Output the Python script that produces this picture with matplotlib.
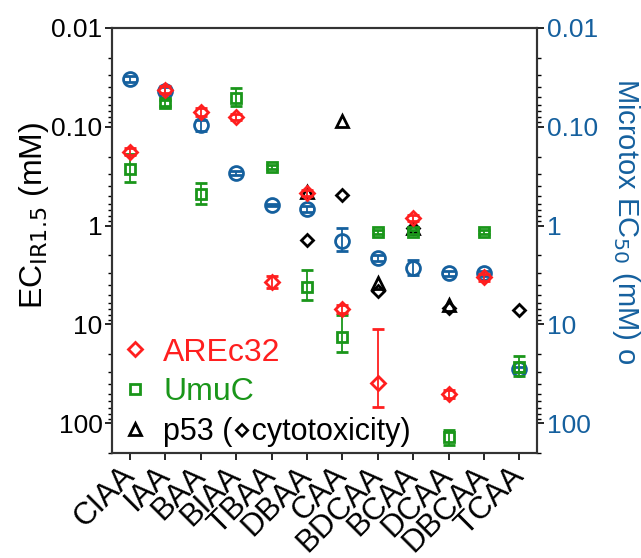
import numpy as np
import matplotlib
matplotlib.use("Agg")
import matplotlib.pyplot as plt
from matplotlib.lines import Line2D

plt.rcParams['font.family'] = ['Liberation Sans', 'DejaVu Sans']

# compounds along the x axis
compounds = ["CIAA", "IAA", "BAA", "BIAA", "TBAA", "DBAA", "CAA",
             "BDCAA", "BCAA", "DCAA", "DBCAA", "TCAA"]
nan = np.nan

# AREc32 EC_IR1.5 (mM) with lower / upper error limits
are_val = [0.18, 0.0425, 0.071, 0.080, 3.74, 0.47, 7.0, 39.5, 0.84, 51, 3.33, nan]
are_lo = [0.165, 0.039, 0.064, 0.075, 3.2, 0.44, 6.4, 11, 0.78, 46, 3.1, nan]
are_hi = [0.195, 0.046, 0.078, 0.086, 4.3, 0.50, 7.6, 69, 0.90, 56, 3.6, nan]

# UmuC EC_IR1.5 (mM)
umu_val = [0.269, 0.0575, 0.48, 0.051, 0.256, 4.2, 13.5, 1.17, 1.17, 139, 1.17, 27.2]
umu_lo = [0.19, 0.053, 0.37, 0.041, 0.245, 2.8, 8.1, 1.12, 1.12, 118, 1.12, 20.6]
umu_hi = [0.36, 0.062, 0.60, 0.062, 0.268, 5.7, 19.2, 1.22, 1.22, 165, 1.22, 33]

# p53 EC_IR1.5 and cytotoxicity (mM)
p53_val = [nan, nan, nan, nan, nan, 0.46, 0.0875, 3.84, 1.06, 6.3, nan, nan]
cyto_val = [nan, nan, nan, nan, nan, 1.41, 0.49, 4.6, 1.06, 6.8, nan, 7.2]

# Microtox EC50 (mM)
mtx_val = [0.033, 0.0435, 0.096, 0.294, 0.62, 0.68, 1.44, 2.14, 2.7, 3.03, 3.03, 28.5]
mtx_lo = [0.031, 0.040, 0.085, 0.28, 0.60, 0.63, 1.06, 2.0, 2.24, 2.9, 2.9, 27]
mtx_hi = [0.035, 0.047, 0.11, 0.31, 0.64, 0.73, 1.82, 2.3, 3.18, 3.2, 3.2, 30]

yticks = [0.01, 0.1, 1, 10, 100]
ytick_labels = ["0.01", "0.10", "1", "10", "100"]

red = "#ff1f1f"
green = "#1a961a"
blue = "#15609e"
black = "black"


def errs(val, lo, hi):
    val, lo, hi = np.array(val), np.array(lo), np.array(hi)
    return [val - lo, hi - val]


x = np.arange(len(compounds))

fig = plt.figure(figsize=(6.41, 5.58), dpi=100)
ax = fig.add_axes([0.175, 0.188, 0.663, 0.762])

mk = dict(linestyle="none", markerfacecolor="none", markeredgewidth=2, capsize=4, elinewidth=1.3, capthick=1.3)

ax.errorbar(x, mtx_val, yerr=errs(mtx_val, mtx_lo, mtx_hi), marker="o", markersize=10,
            color=blue, zorder=2, **mk)
ax.plot(x, p53_val, linestyle="none", marker="^", markersize=8, markerfacecolor="none",
        markeredgewidth=2, color=black, zorder=3)
ax.plot(x, cyto_val, linestyle="none", marker="D", markersize=6.5, markerfacecolor="none",
        markeredgewidth=2, color=black, zorder=3)
ax.errorbar(x, umu_val, yerr=errs(umu_val, umu_lo, umu_hi), marker="s", markersize=7,
            color=green, zorder=4, **mk)
ax.errorbar(x, are_val, yerr=errs(are_val, are_lo, are_hi), marker="D", markersize=7,
            color=red, zorder=5, **mk)

ax.set_yscale("log")
ax.set_ylim(200, 0.01)
ax.set_xlim(-0.5, 11.5)
ax.set_yticks(yticks)
ax.set_yticklabels(ytick_labels)
ax.set_xticks(x)
ax.set_xticklabels(compounds, rotation=45, ha="right", va="center", rotation_mode="anchor",
                   fontsize=22.5)
ax.tick_params(axis="y", which="major", labelsize=19, length=5, width=1.2, pad=2)
ax.tick_params(axis="y", which="minor", length=3, width=1)
ax.tick_params(axis="x", length=5, width=1.2, pad=8)
ax.set_ylabel("EC$_{\\mathrm{IR1.5}}$ (mM)", fontsize=23, labelpad=0)
ax.yaxis.label.set_y(0.56)
for s in ax.spines.values():
    s.set_linewidth(1.5)
    s.set_color("#333333")

ax2 = ax.twinx()
ax2.set_yscale("log")
ax2.set_ylim(200, 0.01)
ax2.set_yticks(yticks)
ax2.set_yticklabels(ytick_labels)
ax2.tick_params(axis="y", which="major", labelsize=19, length=5, width=1.2, labelcolor=blue, pad=2)
ax2.tick_params(axis="y", which="minor", length=3, width=1)
ax2.set_ylabel("Microtox EC$_{\\mathrm{50}}$ (mM) o", fontsize=21, color=blue,
               rotation=270, labelpad=32)
ax2.yaxis.label.set_y(0.545)
for s in ax2.spines.values():
    s.set_linewidth(1.5)
    s.set_color("#333333")

handles = [
    Line2D([], [], linestyle="none", marker="D", markersize=7, markerfacecolor="none",
           markeredgewidth=2, color=red),
    Line2D([], [], linestyle="none", marker="s", markersize=7, markerfacecolor="none",
           markeredgewidth=2, color=green),
    Line2D([], [], linestyle="none", marker="^", markersize=8, markerfacecolor="none",
           markeredgewidth=2, color=black),
]
leg = ax.legend(handles, ["AREc32", "UmuC", "p53 (\u22c4cytotoxicity)"], loc="lower left",
                frameon=False, fontsize=23, handletextpad=0.4, handlelength=1.0,
                labelspacing=0.3, borderpad=0.1, borderaxespad=0.1)
for t, c in zip(leg.get_texts(), [red, green, black]):
    t.set_color(c)
leg.get_texts()[2].set_fontsize(22)

fig.savefig("out.png", dpi=100)
